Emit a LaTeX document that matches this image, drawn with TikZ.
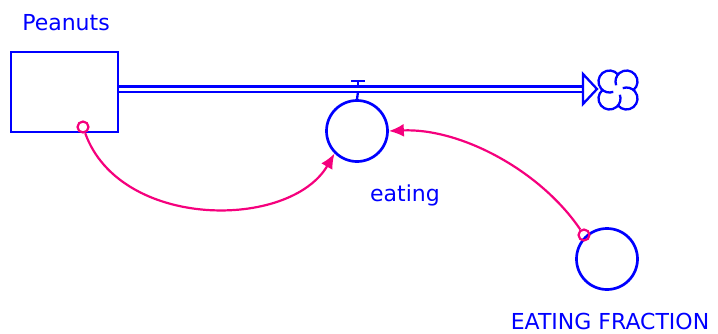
\documentclass[tikz,border=0pt]{standalone}
\usepackage{fontspec}
\setmainfont{DejaVu Sans}
\usetikzlibrary{arrows.meta}
\definecolor{simblue}{RGB}{0,0,255}
\definecolor{linkpink}{RGB}{245,0,125}

\begin{document}
\begin{tikzpicture}[x=1pt, y=-1pt,
  every node/.style={font=\fontsize{22}{26}\selectfont, text=simblue},
  stock/.style={draw=simblue, line width=2.7pt, minimum width=107pt, minimum height=80pt, inner sep=0pt},
  aux/.style={draw=simblue, circle, line width=2.7pt, minimum size=61pt, inner sep=0pt},
  pipe/.style={simblue, line width=2.3pt},
  link/.style={linkpink, line width=2.2pt, -{Latex[length=15pt, width=13pt]}},
  tail/.style={draw=linkpink, circle, line width=2.2pt, minimum size=11pt, inner sep=0pt}
]
  \useasboundingbox (0,0) rectangle (718,333);

  % stock and its flow
  \node[stock] (peanuts) at (64.5,92) {};
  \node at (66,23) {Peanuts};

  \node[aux] (eating) at (357,131) {};
  \node at (405,195) {eating};

  \node[aux] (frac) at (607,259) {};
  \node at (610,321) {EATING FRACTION};

  \coordinate (pipeend) at (583,89);
  \draw[pipe] (peanuts.east |- 0,86.5) -- (pipeend |- 0,86.5);
  \draw[pipe] (peanuts.east |- 0,92) -- (pipeend |- 0,92);
  \draw[pipe, line join=miter] (583,74) -- (597,89) -- (583,104) -- cycle;

  % valve
  \draw[pipe] (351,81) -- (365,81);
  \draw[pipe] (358,81) -- (358,86.5);
  \draw[pipe] (358,92) -- (eating.north);

  % cloud
  \begin{scope}[pipe]
    \draw (609.5,81.5) ++(-39.4:11) arc (-39.4:-290:11);
    \draw (626.5,81.5) ++(50.6:11) arc (50.6:-200:11);
    \draw (626.5,98.5) ++(140.6:11) arc (140.6:-110:11);
    \draw (609.5,98.5) ++(230.6:11) arc (230.6:-20:11);
  \end{scope}

  % links
  \node[tail] (t1) at (83,127) {};
  \node[tail] (t2) at (584,235) {};
  \draw[link] (t1) .. controls (120,230) and (290,230) .. (eating.-135);
  \draw[link] (t2) .. controls (540,170) and (460,128) .. (eating.east);
\end{tikzpicture}
\end{document}
